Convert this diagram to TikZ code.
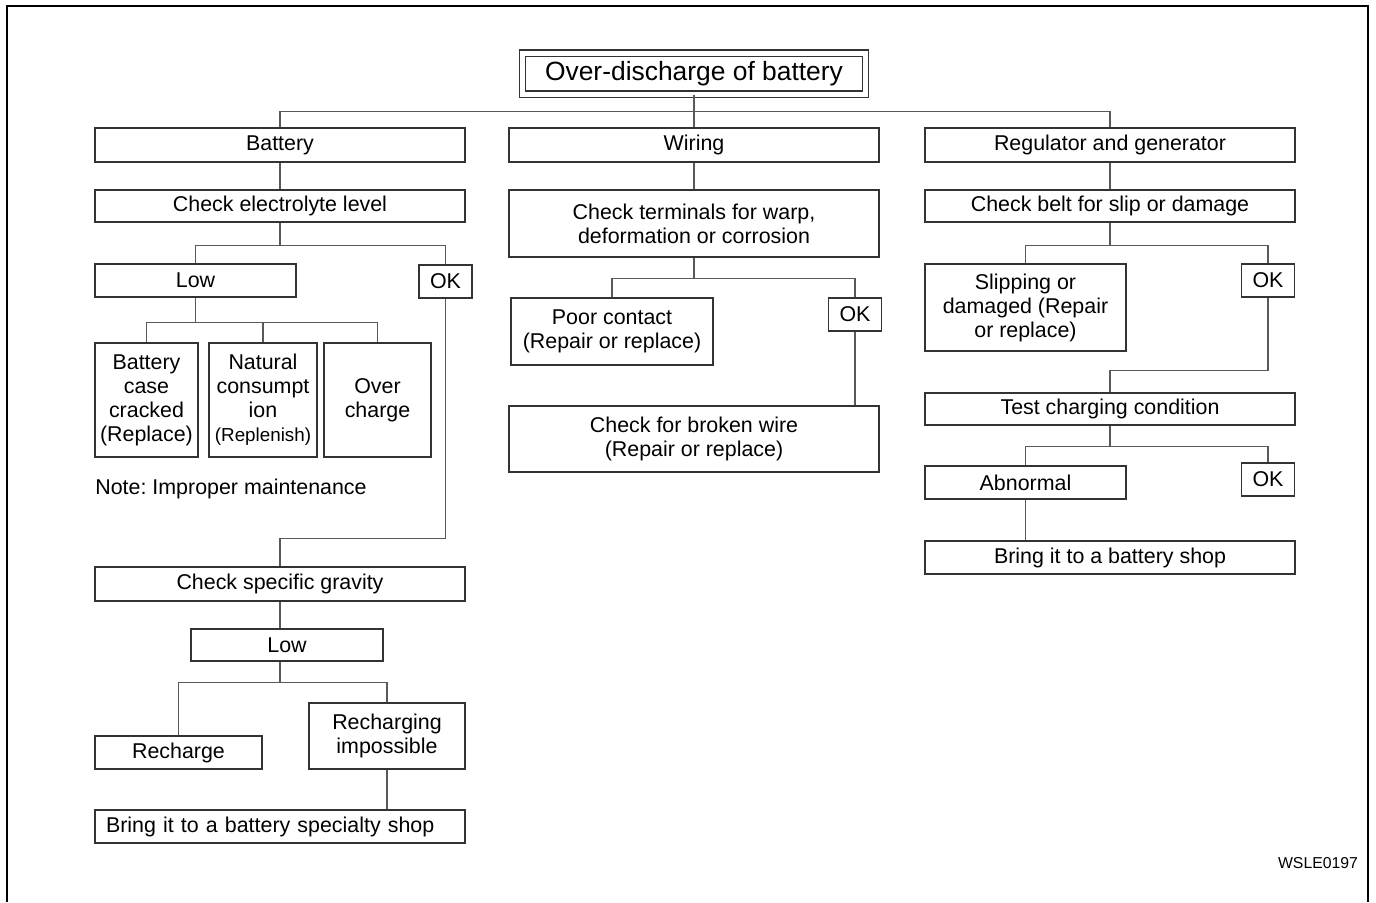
\documentclass[tikz,border=0pt]{standalone}
\usepackage{fontspec}
\setmainfont{Liberation Sans}
\frenchspacing
\begin{document}
\begin{tikzpicture}[x=0.5pt, y=-0.5pt,
  box/.style={draw=black!80, line width=0.6pt, inner sep=0pt, align=center,
    font=\fontsize{10.7}{12}\selectfont},
  wide/.style={box, minimum width=185pt, minimum height=16.5pt},
  okbox/.style={box, minimum width=26.5pt, minimum height=16.5pt},
  conn/.style={draw=black!65, line width=0.6pt}]

  \useasboundingbox (0,0) rectangle (1376,902);
  \draw[line width=1.25pt] (7,902) -- (7,6) -- (1368,6) -- (1368,902);

  \node[box, double, double distance=2.5pt, minimum width=171.5pt, minimum height=20.5pt,
    font=\fontsize{13.2}{15}\selectfont] (top) at (694,73.5) {Over-discharge of battery};

  % battery column
  \node[wide, minimum height=17pt] (bat) at (280,145) {Battery};
  \node[wide, minimum height=16pt] (elec) at (280,206) {Check electrolyte level};
  \node[box, minimum width=100.5pt, minimum height=16.5pt] (low) at (195.5,280.5) {Low};
  \node[okbox] (ok1) at (445.5,281.5) {OK};
  \node[box, minimum width=51.5pt, minimum height=57pt] (case) at (146.5,400)
    {Battery\\case\\cracked\\(Replace)};
  \node[box, minimum width=54pt, minimum height=57pt] (nat) at (263,400)
    {Natural\\consumpt\\ion\\{\fontsize{9.4}{12}\selectfont(Replenish)}};
  \node[box, minimum width=53.5pt, minimum height=57pt] (over) at (377.5,400)
    {Over\\charge};
  \node[anchor=west, inner sep=0pt, font=\fontsize{10.7}{12}\selectfont] (note)
    at (95,489) {Note: Improper maintenance};
  \node[wide, minimum height=17pt] (grav) at (280,584) {Check specific gravity};
  \node[box, minimum width=96pt, minimum height=16pt] (low2) at (287,645) {Low};
  \node[box, minimum width=83.5pt, minimum height=16.5pt] (rech) at (178.5,752.5) {Recharge};
  \node[box, minimum width=78pt, minimum height=33pt] (imp) at (387,736)
    {Recharging\\impossible};
  \node[box, minimum height=16.5pt, inner xsep=5.5pt, text width=174pt, align=left]
    (shop1) at (280,826.5) {Bring it to a battery specialty shop};

  % wiring column
  \node[wide, minimum height=17pt] (wir) at (694,145) {Wiring};
  \node[wide, minimum height=33.5pt] (term) at (694,223.5)
    {Check terminals for warp,\\deformation or corrosion};
  \node[box, minimum width=101pt, minimum height=33.5pt] (poor) at (612,331.5)
    {Poor contact\\(Repair or replace)};
  \node[okbox] (ok2) at (855,314.5) {OK};
  \node[wide, minimum height=33pt] (wire) at (694,439)
    {Check for broken wire\\(Repair or replace)};

  % regulator column
  \node[wide, minimum height=17pt] (reg) at (1110,145) {Regulator and generator};
  \node[wide, minimum height=16pt] (belt) at (1110,206) {Check belt for slip or damage};
  \node[box, minimum width=100.5pt, minimum height=43.5pt] (slip) at (1025.5,307.5)
    {Slipping or\\damaged (Repair\\or replace)};
  \node[okbox] (ok3) at (1268,280.5) {OK};
  \node[wide, minimum height=16pt] (test) at (1110,409) {Test charging condition};
  \node[box, minimum width=100.5pt, minimum height=16.5pt] (abn) at (1025.5,482.5) {Abnormal};
  \node[okbox] (ok4) at (1268,479.5) {OK};
  \node[wide] (shop2) at (1110,557.5) {Bring it to a battery shop};

  \node[font=\fontsize{7.9}{9}\selectfont, inner sep=0pt] (code) at (1318,863) {WSLE0197};

  % connectors
  \draw[conn] (top.south) -- ++(0,17) -| (bat.north);
  \draw[conn] (top.south) -- ++(0,17) -| (reg.north);
  \path[conn]
   (top) edge (wir)
   (bat) edge (elec)
   (wir) edge (term)
   (reg) edge (belt);
  \draw[conn] (elec.south) -- ++(0,23) -| (low.north);
  \draw[conn] (elec.south) -- ++(0,23) -| (ok1.north);
  \draw[conn] (low.south) -- ++(0,25) -| (case.north);
  \draw[conn] (low.south) -- ++(0,25) -| (nat.north);
  \draw[conn] (low.south) -- ++(0,25) -| (over.north);
  \draw[conn] (grav.north) -- ++(0,-28) -| (ok1.south);
  \draw[conn] (grav.south) -- (grav.south |- low2.north);
  \draw[conn] (grav.south |- low2.south) -- ++(0,21) -| (rech.north);
  \draw[conn] (grav.south |- low2.south) -- ++(0,21) -| (imp.north);
  \draw[conn] (imp.south) -- (imp.south |- shop1.north);
  \draw[conn] (term.south) -- ++(0,21) -| (poor.north);
  \draw[conn] (term.south) -- ++(0,21) -| (ok2.north);
  \draw[conn] (ok2.south) -- (ok2.south |- wire.north);
  \draw[conn] (belt.south) -- ++(0,23) -| (slip.north);
  \draw[conn] (belt.south) -- ++(0,23) -| (ok3.north);
  \draw[conn] (test.north) -- ++(0,-22) -| (ok3.south);
  \draw[conn] (test.south) -- ++(0,21) -| (abn.north);
  \draw[conn] (test.south) -- ++(0,21) -| (ok4.north);
  \draw[conn] (abn.south) -- (abn.south |- shop2.north);
\end{tikzpicture}
\end{document}
